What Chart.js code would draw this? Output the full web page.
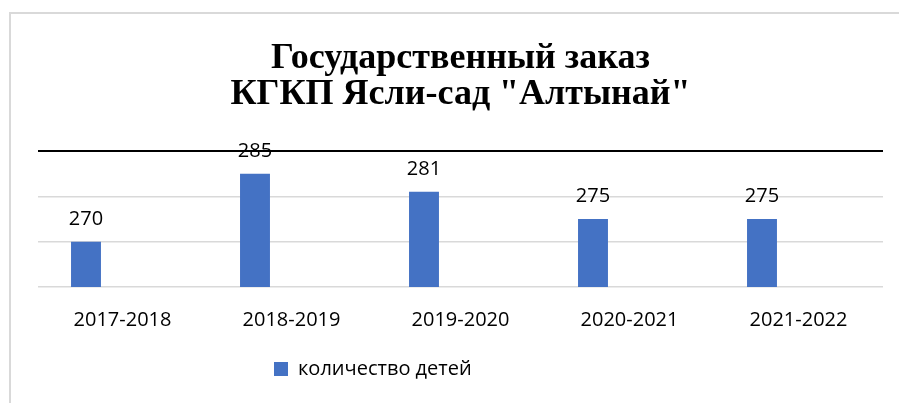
<!DOCTYPE html>
<html>
<head>
<meta charset="utf-8">
<script src="https://cdn.jsdelivr.net/npm/chart.js@4/dist/chart.umd.min.js"></script>
<style>
    html, body { margin: 0; padding: 0; background: #fff; overflow: hidden; }
    #frame {
        position: absolute; left: 9px; top: 12px; width: 890px; height: 391px;
        border-left: 2px solid #d9d9d9; border-top: 2px solid #d9d9d9;
    }
    #wrap { position: absolute; left: 0; top: 0; width: 899px; height: 403px; }
</style>
</head>
<body>
<div id="frame"></div>
<div id="wrap"><canvas id="chart"></canvas></div>
<script>
var titleLines = ['Государственный заказ', 'КГКП Ясли-сад "Алтынай"'];
var years = ['2017-2018', '2018-2019', '2019-2020', '2020-2021', '2021-2022'];
var children = [270, 285, 281, 275, 275];
var seriesName = 'количество детей';
// empty series like in the source workbook, its legend entry is blank
var emptySeries = [];
var emptyName = ' '.repeat(27);
var axisMin = 260;
var axisMax = 290;
var axisStep = 10;

const barLabels = {
    id: 'barLabels',
    afterDatasetsDraw(chart) {
        const ctx = chart.ctx;
        const meta = chart.getDatasetMeta(0);
        ctx.save();
        ctx.font = '20px "Open Sans"';
        ctx.fillStyle = '#000';
        ctx.textAlign = 'center';
        ctx.textBaseline = 'alphabetic';
        meta.data.forEach((bar, i) => {
            ctx.fillText(children[i], bar.x, bar.y - 17);
        });
        ctx.restore();
    }
};

const ctx = document.getElementById('chart').getContext('2d');
const chart = new Chart(ctx, {
    type: 'bar',
    data: {
        labels: years,
        datasets: [{
            label: seriesName,
            data: children,
            backgroundColor: '#4472C4',
            borderWidth: 0,
            categoryPercentage: 0.864,
            barPercentage: 0.41
        }, {
            label: emptyName,
            data: emptySeries,
            backgroundColor: 'rgba(0,0,0,0)',
            borderWidth: 0,
            categoryPercentage: 0.864,
            barPercentage: 0.41
        }]
    },
    options: {
        responsive: true,
        maintainAspectRatio: false,
        animation: false,
        layout: { padding: { left: 38, right: 16, top: 0, bottom: 14 } },
        plugins: {
            title: {
                display: true,
                text: titleLines,
                color: '#000',
                font: { family: '"Liberation Serif", "Times New Roman", serif', size: 36, weight: 'bold', lineHeight: 1.0 },
                padding: { top: 41, bottom: 38 }
            },
            legend: {
                position: 'bottom',
                labels: {
                    color: '#000',
                    font: { family: '"Open Sans"', size: 20 },
                    boxWidth: 14,
                    boxHeight: 14,
                    padding: 11
                }
            },
            tooltip: { enabled: false }
        },
        scales: {
            x: {
                grid: { display: false },
                border: { display: false },
                ticks: { color: '#000', font: { family: '"Open Sans"', size: 20 }, padding: 13 },
                afterFit: scale => { scale.height += 3; }
            },
            y: {
                min: axisMin,
                max: axisMax,
                ticks: { display: false, stepSize: axisStep },
                border: { display: false },
                grid: {
                    drawTicks: false,
                    color: c => c.tick && c.tick.value === axisMax ? '#000' : '#d9d9d9',
                    lineWidth: c => c.tick && c.tick.value === axisMax ? 2 : 1.5
                }
            }
        }
    },
    plugins: [barLabels]
});
</script>
</body>
</html>
